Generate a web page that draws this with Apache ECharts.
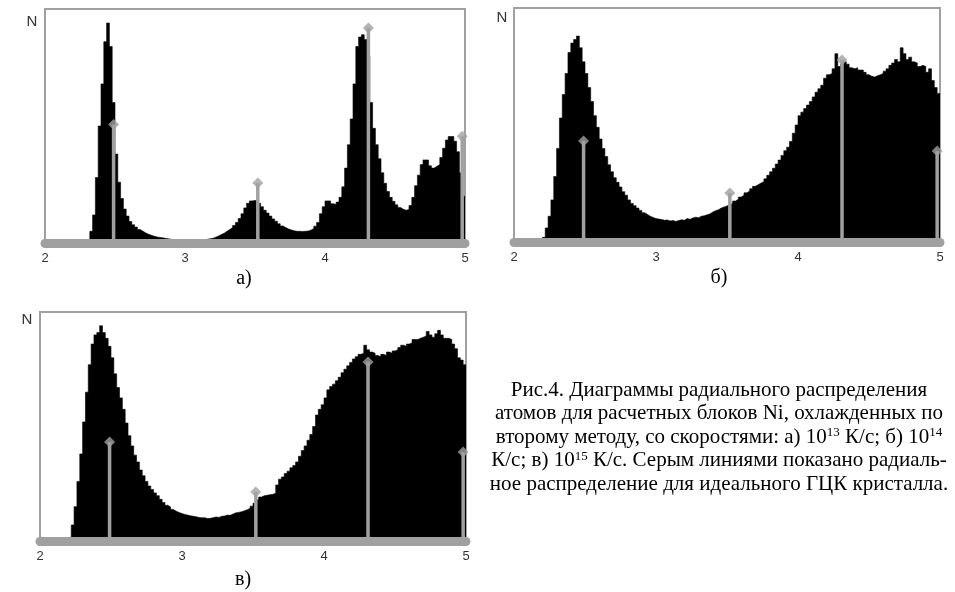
<!DOCTYPE html>
<html>
<head>
<meta charset="utf-8">
<script src="https://cdn.jsdelivr.net/npm/echarts@6/dist/echarts.min.js"></script>
<style>
html,body{margin:0;padding:0;background:#fff;}
#chart{width:955px;height:592px;}
</style>
</head>
<body>
<div id="chart"></div>
<script>
// Histogram bins: radius from 2.0 Å in steps of 0.02 Å (150 bins up to 5.0)
const radiusStart = 2.0;
const binWidth = 0.02;
const xTicks = [2, 3, 4, 5];

// а) 10^13 K/s
const countsA = [
  0,0,0,0,0,0,0,0,0,0,0,0,0,0,0,
  0.5,5,12,28,50,68,86,94,84,60,38,26,19,14.5,11.5,
  9.2,7.8,6.8,5.8,5,4.3,3.7,3.3,2.9,2.6,2.4,2.2,2,1.8,1.6,
  1.4,1.3,1.2,1,1,1,1,1,1,1.2,1.2,1.4,1.6,1.8,2,
  2.5,3,3.6,4.2,5,5.8,6.6,7.5,8.8,10.5,12.5,15,17,18,18.2,
  18,17,15.5,14,12.8,11.5,10.3,9.3,8.2,7.3,6.6,6,5.6,5.2,5,
  5,4.9,5,5.1,5.5,6.2,7.2,8.8,12.5,15.5,18,18,16.8,16.5,17.5,
  19.5,24,32,42,53,68,84,88,89,87,80,60,49,42,36,
  30,25.5,22,19.5,17.8,16.3,15.2,14.4,14,14.3,16,19.5,24.5,29,33.5,
  35.5,35.5,33,32,32.8,33.5,36.5,40.5,44,45.5,45.5,43.5,39,30,20
];
// б) 10^14 K/s
const countsB = [
  0,0,0,0,0,0,0,0,0,0,
  2,6,11,18,28,40,53,63,72,81,
  85,86.5,88,83,77,72,66,60,54,49,
  44,40,36.5,33,30,27.5,25.5,23.5,21.5,20,
  18,16.5,15.5,14.5,13.5,12.5,11.8,11,10.5,10,
  9.8,9.6,9.3,9.4,9,9.2,8.8,9.2,9.5,9.3,
  10,9.7,10.3,10.6,10.4,11,11.2,11.6,12,12.8,
  13.4,13.8,14.5,15,15.4,16,16.6,17.5,18.3,19.2,
  20,21,21.8,22.8,23.8,24.5,25.2,25.8,27,28.5,
  30,31.5,33.3,35,37,39,40.5,43,46.5,50,
  54,55.5,57,58.5,60,62,64,65.5,67,70,
  71.5,72,74,80.5,75,76,77,76,74.5,74,
  74.5,73.5,73.5,72.5,71.5,70.8,70.5,71,71.5,72,
  73,74,75.5,76.5,78,77,83,80.5,78,79,
  77,76.5,75,75.5,75,72.5,74,69,66,63.5
];
// в) 10^15 K/s
const countsC = [
  0,0,0,0,0,0,0,0,0,0,
  1.5,7,15,26,38,52,65,77,86,90,
  91,94,91,88.5,85,80,73,67,62.5,57.5,
  51.5,46,41.5,37.5,34.5,31,28.5,26,24,22.5,
  21,19.8,18.2,16.8,15.6,14.8,13.8,13,12.4,12,
  11.6,11.3,11,10.8,10.6,10.3,10.1,10.2,9.8,9.9,
  10.2,10.5,10.3,10.8,10.9,11.3,11.2,11.8,12.3,12.5,
  12.8,13.2,13.7,14.3,15.2,16.5,18,19.2,19.8,20,
  20.2,20.4,20.8,24.5,27,28,29.5,30.5,32,33,
  34.5,37,39.5,41.5,44,46.5,50,55,57.5,59.5,
  62.5,66,67.5,68.5,70,71.5,73.5,75,76.5,78,
  79.5,80.5,81.5,82,85.5,83.5,82.5,82,81,80.5,
  81.5,81,82.5,82,83,83.5,84.5,85.5,85,86,
  86.5,88,88,88.5,89,89.5,91.5,90,89,90.5,
  92,90,88.5,88.5,88,86,84,80,79,77
];

// Ideal FCC crystal reference lines (grey stems)
const fccR = [2.49, 3.52, 4.31, 4.98];
const fccA = [50.6, 25.6, 91.9, 45.6];
const fccB = [43.2, 20.9, 77.8, 38.9];
const fccC = [43.2, 21.4, 78.2, 38.9];

const panelLabels = ['а)', 'б)', 'в)'];
const captionLines = [
  'Рис.4. Диаграммы радиального распределения',
  'атомов для расчетных блоков Ni, охлажденных по',
  'второму методу, со скоростями: а) 10{sup|13} К/с; б) 10{sup|14}',
  'К/с; в) 10{sup|15} К/с. Серым линиями показано радиаль-',
  'ное распределение для идеального ГЦК кристалла.'
];

const GRAY = '#a0a0a0';
const grids = [
  {left: 45, top: 9, width: 420, height: 234},
  {left: 514, top: 8, width: 426, height: 234},
  {left: 40, top: 312, width: 426, height: 229}
];
const counts = [countsA, countsB, countsC];
const fcc = [fccA, fccB, fccC];

function histData(arr) {
  const d = arr.map((v, i) => [+(radiusStart + i * binWidth).toFixed(2), v]);
  d.push([radiusStart + arr.length * binWidth, arr[arr.length - 1]]);
  return d;
}

const option = {
  backgroundColor: '#fff',
  animation: false,
  grid: grids.map(g => Object.assign({show: true, borderColor: GRAY, borderWidth: 2, backgroundColor: 'transparent'}, g)),
  xAxis: grids.map((g, i) => ({
    type: 'value', gridIndex: i, min: xTicks[0], max: xTicks[xTicks.length - 1], interval: 1,
    z: 10,
    axisLine: {show: true, onZero: false, lineStyle: {color: GRAY, width: 9, cap: 'round'}},
    axisTick: {show: false},
    splitLine: {show: false},
    axisLabel: {color: '#333', fontSize: 13, fontFamily: 'Liberation Sans, Arial, sans-serif', margin: 9}
  })),
  yAxis: grids.map((g, i) => ({
    type: 'value', gridIndex: i, min: 0, max: 100, show: false
  })),
  series: []
};

counts.forEach((arr, i) => {
  option.series.push({
    type: 'line', xAxisIndex: i, yAxisIndex: i, step: 'end', symbol: 'none', z: 2,
    lineStyle: {color: '#000', width: 0.6},
    areaStyle: {color: '#000', opacity: 1},
    data: histData(arr)
  });
  option.series.push({
    type: 'bar', xAxisIndex: i, yAxisIndex: i, barWidth: 3.5, z: 3,
    itemStyle: {color: GRAY},
    data: fccR.map((r, k) => [r, fcc[i][k]])
  });
  option.series.push({
    type: 'scatter', xAxisIndex: i, yAxisIndex: i, symbol: 'diamond', symbolSize: [11, 11], z: 4,
    itemStyle: {color: GRAY},
    data: fccR.map((r, k) => [r, fcc[i][k]])
  });
});

const nPos = [[32, 22], [502, 18], [27, 320]];
const labPos = [[244, 279], [719, 278], [243, 580]];
const graphics = [];
nPos.forEach(p => graphics.push({
  type: 'text', x: p[0], y: p[1],
  style: {text: 'N', fill: '#333', font: '15px "Liberation Sans", Arial, sans-serif', textAlign: 'center', textVerticalAlign: 'middle'}
}));
labPos.forEach((p, i) => graphics.push({
  type: 'text', x: p[0], y: p[1],
  style: {text: panelLabels[i], fill: '#000', font: '20px "Liberation Serif", "Times New Roman", serif', textAlign: 'center', textVerticalAlign: 'middle'}
}));
const capY = [390, 413.5, 437, 460.5, 484];
captionLines.forEach((t, i) => graphics.push({
  type: 'text', x: 719, y: capY[i],
  style: {
    text: t, fill: '#000', font: '21px "Liberation Serif", "Times New Roman", serif',
    textAlign: 'center', textVerticalAlign: 'middle',
    rich: {sup: {fontSize: 13, fontFamily: '"Liberation Serif", "Times New Roman", serif', verticalAlign: 'top', lineHeight: 13, padding: [0, 0, 8, 0]}}
  }
}));
option.graphic = graphics;

const chart = echarts.init(document.getElementById('chart'), null, {renderer: 'canvas'});
chart.setOption(option);
</script>
</body>
</html>
